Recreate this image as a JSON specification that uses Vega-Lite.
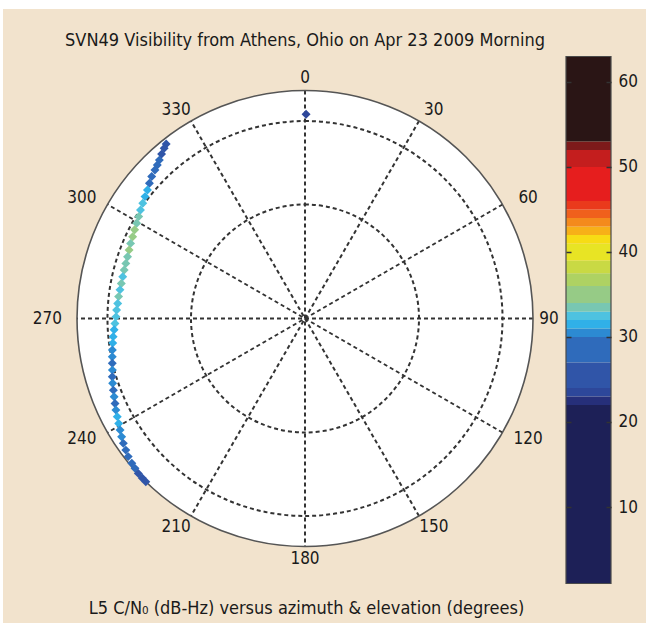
{
  "$schema": "https://vega.github.io/schema/vega-lite/v6.json",
  "width": 643,
  "height": 614,
  "autosize": {"type": "none"},
  "padding": {"left": 3, "top": 9, "right": 0, "bottom": 0},
  "background": "white",
  "config": {
    "view": {"fill": "#f2e3cd", "stroke": null},
    "font": "DejaVu Sans Condensed"
  },
  "title": {
    "text": "SVN49 Visibility from Athens, Ohio on Apr 23 2009 Morning",
    "anchor": "middle",
    "frame": "group",
    "dx": -19.5,
    "offset": -41,
    "fontSize": 18,
    "fontWeight": "normal",
    "color": "#1a1a1a",
    "font": "DejaVu Sans Condensed"
  },
  "datasets": {
    "face": [{"el": 0}],
    "rings": [{"el": 60}, {"el": 30}],
    "diameters": [{"az": 0}, {"az": 30}, {"az": 60}, {"az": 90}, {"az": 120}, {"az": 150}],
    "labels": [{"az": 0}, {"az": 30}, {"az": 60}, {"az": 90}, {"az": 120}, {"az": 150}, {"az": 180}, {"az": 210}, {"az": 240}, {"az": 270}, {"az": 300}, {"az": 330}],
    "track": [
      {"az": 0.3, "el": 26.4, "cn0": 23.5},
      {"az": 321.5, "el": 12.0, "cn0": 25.5},
      {"az": 320.4, "el": 14.3, "cn0": 26},
      {"az": 318.9, "el": 16.9, "cn0": 26.5},
      {"az": 317.4, "el": 19.3, "cn0": 27.5},
      {"az": 316.1, "el": 20.9, "cn0": 28},
      {"az": 314.7, "el": 22.2, "cn0": 28.5},
      {"az": 312.8, "el": 23.6, "cn0": 29},
      {"az": 311.0, "el": 25.3, "cn0": 29.5},
      {"az": 309.2, "el": 26.9, "cn0": 31},
      {"az": 307.3, "el": 28.1, "cn0": 31.5},
      {"az": 305.4, "el": 29.2, "cn0": 32},
      {"az": 303.4, "el": 30.2, "cn0": 32.5},
      {"az": 301.5, "el": 31.2, "cn0": 33.2},
      {"az": 299.5, "el": 32.0, "cn0": 33.5},
      {"az": 297.5, "el": 32.6, "cn0": 34.5},
      {"az": 295.4, "el": 33.2, "cn0": 34},
      {"az": 293.3, "el": 33.6, "cn0": 33.5},
      {"az": 291.3, "el": 34.1, "cn0": 34.5},
      {"az": 289.2, "el": 34.5, "cn0": 33.5},
      {"az": 287.1, "el": 34.7, "cn0": 33.5},
      {"az": 285.0, "el": 34.8, "cn0": 33.2},
      {"az": 282.9, "el": 34.9, "cn0": 32.8},
      {"az": 280.8, "el": 34.9, "cn0": 33.3},
      {"az": 278.8, "el": 34.8, "cn0": 32.5},
      {"az": 276.7, "el": 34.6, "cn0": 33.2},
      {"az": 274.6, "el": 34.5, "cn0": 32.5},
      {"az": 272.6, "el": 34.2, "cn0": 32.3},
      {"az": 270.5, "el": 34.0, "cn0": 32.5},
      {"az": 268.5, "el": 33.5, "cn0": 32.2},
      {"az": 266.6, "el": 33.0, "cn0": 31.5},
      {"az": 264.6, "el": 32.3, "cn0": 31.5},
      {"az": 262.7, "el": 31.8, "cn0": 31.2},
      {"az": 260.7, "el": 31.1, "cn0": 30.5},
      {"az": 258.8, "el": 30.5, "cn0": 30.2},
      {"az": 256.9, "el": 29.8, "cn0": 29.5},
      {"az": 255.0, "el": 29.0, "cn0": 30.5},
      {"az": 253.2, "el": 28.0, "cn0": 28},
      {"az": 251.4, "el": 27.1, "cn0": 30},
      {"az": 249.5, "el": 26.2, "cn0": 29},
      {"az": 247.7, "el": 25.2, "cn0": 30.5},
      {"az": 245.9, "el": 24.1, "cn0": 28.5},
      {"az": 244.2, "el": 22.9, "cn0": 30.5},
      {"az": 242.4, "el": 21.7, "cn0": 31},
      {"az": 240.6, "el": 20.3, "cn0": 31},
      {"az": 238.9, "el": 18.7, "cn0": 30.5},
      {"az": 237.2, "el": 16.9, "cn0": 30},
      {"az": 235.5, "el": 14.8, "cn0": 29.5},
      {"az": 233.7, "el": 12.8, "cn0": 28.5},
      {"az": 232.0, "el": 10.3, "cn0": 28},
      {"az": 230.1, "el": 8.1, "cn0": 27.5},
      {"az": 228.6, "el": 6.3, "cn0": 27},
      {"az": 227.1, "el": 3.6, "cn0": 26.5},
      {"az": 225.6, "el": 2.0, "cn0": 26},
      {"az": 224.3, "el": 1.0, "cn0": 25.5}
    ],
    "bands": [
      {"lo": 1, "hi": 22}, {"lo": 22, "hi": 23}, {"lo": 23, "hi": 24}, {"lo": 24, "hi": 27},
      {"lo": 27, "hi": 30}, {"lo": 30, "hi": 31}, {"lo": 31, "hi": 32}, {"lo": 32, "hi": 33},
      {"lo": 33, "hi": 34}, {"lo": 34, "hi": 36}, {"lo": 36, "hi": 37.5}, {"lo": 37.5, "hi": 39},
      {"lo": 39, "hi": 41}, {"lo": 41, "hi": 42}, {"lo": 42, "hi": 43}, {"lo": 43, "hi": 44},
      {"lo": 44, "hi": 45}, {"lo": 45, "hi": 46}, {"lo": 46, "hi": 50}, {"lo": 50, "hi": 52},
      {"lo": 52, "hi": 53}, {"lo": 53, "hi": 63}
    ]
  },
  "layer": [
    {
      "layer": [
        {
          "data": {"name": "face"},
          "transform": [{"calculate": "cos(datum.el * PI / 180)", "as": "r"}],
          "mark": {"type": "arc", "theta": 0, "theta2": 6.2832, "fill": "white", "stroke": null},
          "encoding": {
            "x": {"datum": 0, "type": "quantitative", "stack": null, "scale": {"domain": [-1.324561, 1.495614], "nice": false, "zero": false}, "axis": null},
            "y": {"datum": 0, "type": "quantitative", "stack": null, "scale": {"domain": [-1.335526, 1.357456], "nice": false, "zero": false}, "axis": null},
            "radius": {"field": "r", "type": "quantitative", "stack": null, "scale": {"type": "linear", "domain": [0, 1], "range": [0, 228], "zero": true}}
          }
        },
        {
          "data": {"name": "rings"},
          "transform": [{"calculate": "cos(datum.el * PI / 180)", "as": "r"}],
          "mark": {"type": "arc", "theta": 0, "theta2": 6.2832, "filled": false, "stroke": "#333333", "strokeWidth": 2, "strokeDash": [4, 3]},
          "encoding": {
            "x": {"datum": 0, "type": "quantitative", "stack": null, "axis": null},
            "y": {"datum": 0, "type": "quantitative", "stack": null, "axis": null},
            "radius": {"field": "r", "type": "quantitative", "stack": null}
          }
        },
        {
          "data": {"name": "diameters"},
          "transform": [
            {"calculate": "sin(datum.az * PI / 180)", "as": "ex"},
            {"calculate": "cos(datum.az * PI / 180)", "as": "ey"},
            {"calculate": "-datum.ex", "as": "wx"},
            {"calculate": "-datum.ey", "as": "wy"}
          ],
          "mark": {"type": "rule", "color": "#333333", "strokeWidth": 2, "strokeDash": [4, 3]},
          "encoding": {
            "x": {"field": "ex", "type": "quantitative", "axis": null},
            "y": {"field": "ey", "type": "quantitative", "axis": null},
            "x2": {"field": "wx"},
            "y2": {"field": "wy"}
          }
        },
        {
          "data": {"name": "face"},
          "transform": [{"calculate": "cos(datum.el * PI / 180)", "as": "r"}],
          "mark": {"type": "arc", "theta": 0, "theta2": 6.2832, "filled": false, "stroke": "#555555", "strokeWidth": 1.6},
          "encoding": {
            "x": {"datum": 0, "type": "quantitative", "stack": null, "axis": null},
            "y": {"datum": 0, "type": "quantitative", "stack": null, "axis": null},
            "radius": {"field": "r", "type": "quantitative", "stack": null}
          }
        },
        {
          "data": {"name": "labels"},
          "transform": [
            {"calculate": "min(1.13 * sin(datum.az * PI / 180), 1.07)", "as": "lx"},
            {"calculate": "1.057 * cos(datum.az * PI / 180)", "as": "ly"}
          ],
          "mark": {"type": "text", "fontSize": 17, "color": "#1a1a1a", "align": "center", "baseline": "middle", "font": "DejaVu Sans Condensed"},
          "encoding": {
            "x": {"field": "lx", "type": "quantitative", "axis": null},
            "y": {"field": "ly", "type": "quantitative", "axis": null},
            "text": {"field": "az", "type": "nominal"}
          }
        },
        {
          "data": {"name": "track"},
          "transform": [
            {"calculate": "cos(datum.el * PI / 180) * sin(datum.az * PI / 180)", "as": "px"},
            {"calculate": "cos(datum.el * PI / 180) * cos(datum.az * PI / 180)", "as": "py"}
          ],
          "mark": {"type": "point", "shape": "diamond", "filled": true, "size": 80, "opacity": 1},
          "encoding": {
            "x": {"field": "px", "type": "quantitative", "axis": null},
            "y": {"field": "py", "type": "quantitative", "axis": null},
            "color": {
              "field": "cn0", "type": "quantitative", "legend": null,
              "scale": {
                "type": "threshold",
                "domain": [22, 23, 24, 27, 30, 31, 32, 33, 34, 36, 37.5, 39, 41, 42, 43, 44, 45, 46, 50, 52, 53],
                "range": ["#1d2057", "#262f7a", "#2d479a", "#3055a8", "#2f6bbb", "#2c8ad2", "#30b0e8", "#4ec2e0", "#78c7b2", "#96cb86", "#aed263", "#c9d944", "#e8e424", "#f7dc15", "#f7b018", "#f48a1c", "#f0601c", "#ea3a1c", "#e61e1e", "#c41e1e", "#7d1a1a", "#2a1515"]
              }
            }
          }
        }
      ]
    },
    {
      "data": {"name": "bands"},
      "mark": {"type": "rect"},
      "encoding": {
        "x": {
          "datum": 1.14474, "type": "quantitative",
          "axis": {
            "orient": "bottom", "domain": false, "ticks": false, "labels": false, "grid": false,
            "title": "L5 C/N₀ (dB-Hz) versus azimuth & elevation (degrees)",
            "titleFont": "DejaVu Sans Condensed", "titleFontSize": 18, "titleFontWeight": "normal",
            "titleColor": "#1a1a1a", "titleX": 303, "titleY": -10, "titleBaseline": "alphabetic", "titleAlign": "center"
          }
        },
        "x2": {"datum": 1.34211},
        "y": {
          "field": "lo", "type": "quantitative",
          "scale": {"domain": [-3.647, 68.588], "nice": false, "zero": false},
          "axis": {
            "orient": "right", "offset": -35, "values": [10, 20, 30, 40, 50, 60], "zindex": 1,
            "domain": false, "ticks": true, "tickSize": -5, "tickColor": "#333333", "tickWidth": 1.5, "grid": false, "title": null,
            "labelPadding": 12, "labelFontSize": 17, "labelFont": "DejaVu Sans Condensed", "labelColor": "#1a1a1a"
          }
        },
        "y2": {"field": "hi"},
        "color": {
          "field": "lo", "type": "quantitative", "legend": null,
          "scale": {
            "type": "threshold",
            "domain": [22, 23, 24, 27, 30, 31, 32, 33, 34, 36, 37.5, 39, 41, 42, 43, 44, 45, 46, 50, 52, 53],
            "range": ["#1d2057", "#262f7a", "#2d479a", "#3055a8", "#2f6bbb", "#2c8ad2", "#30b0e8", "#4ec2e0", "#78c7b2", "#96cb86", "#aed263", "#c9d944", "#e8e424", "#f7dc15", "#f7b018", "#f48a1c", "#f0601c", "#ea3a1c", "#e61e1e", "#c41e1e", "#7d1a1a", "#2a1515"]
          }
        }
      }
    },
    {
      "data": {"values": [{"cmin": 1, "cmax": 63}]},
      "mark": {"type": "rect", "filled": false, "stroke": "#4a4a4a", "strokeWidth": 1.2},
      "encoding": {
        "x": {"datum": 1.14474, "type": "quantitative", "axis": null},
        "x2": {"datum": 1.34211},
        "y": {
          "field": "cmin", "type": "quantitative",
          "scale": {"domain": [-3.647, 68.588], "nice": false, "zero": false},
          "axis": {
            "orient": "left", "offset": -563, "values": [10, 20, 30, 40, 50, 60], "zindex": 1,
            "domain": false, "labels": false, "ticks": true, "tickSize": -5, "tickColor": "#333333", "tickWidth": 1.5, "grid": false, "title": null
          }
        },
        "y2": {"field": "cmax"}
      }
    }
  ],
  "resolve": {"scale": {"y": "independent"}, "axis": {"y": "independent", "x": "independent"}}
}
